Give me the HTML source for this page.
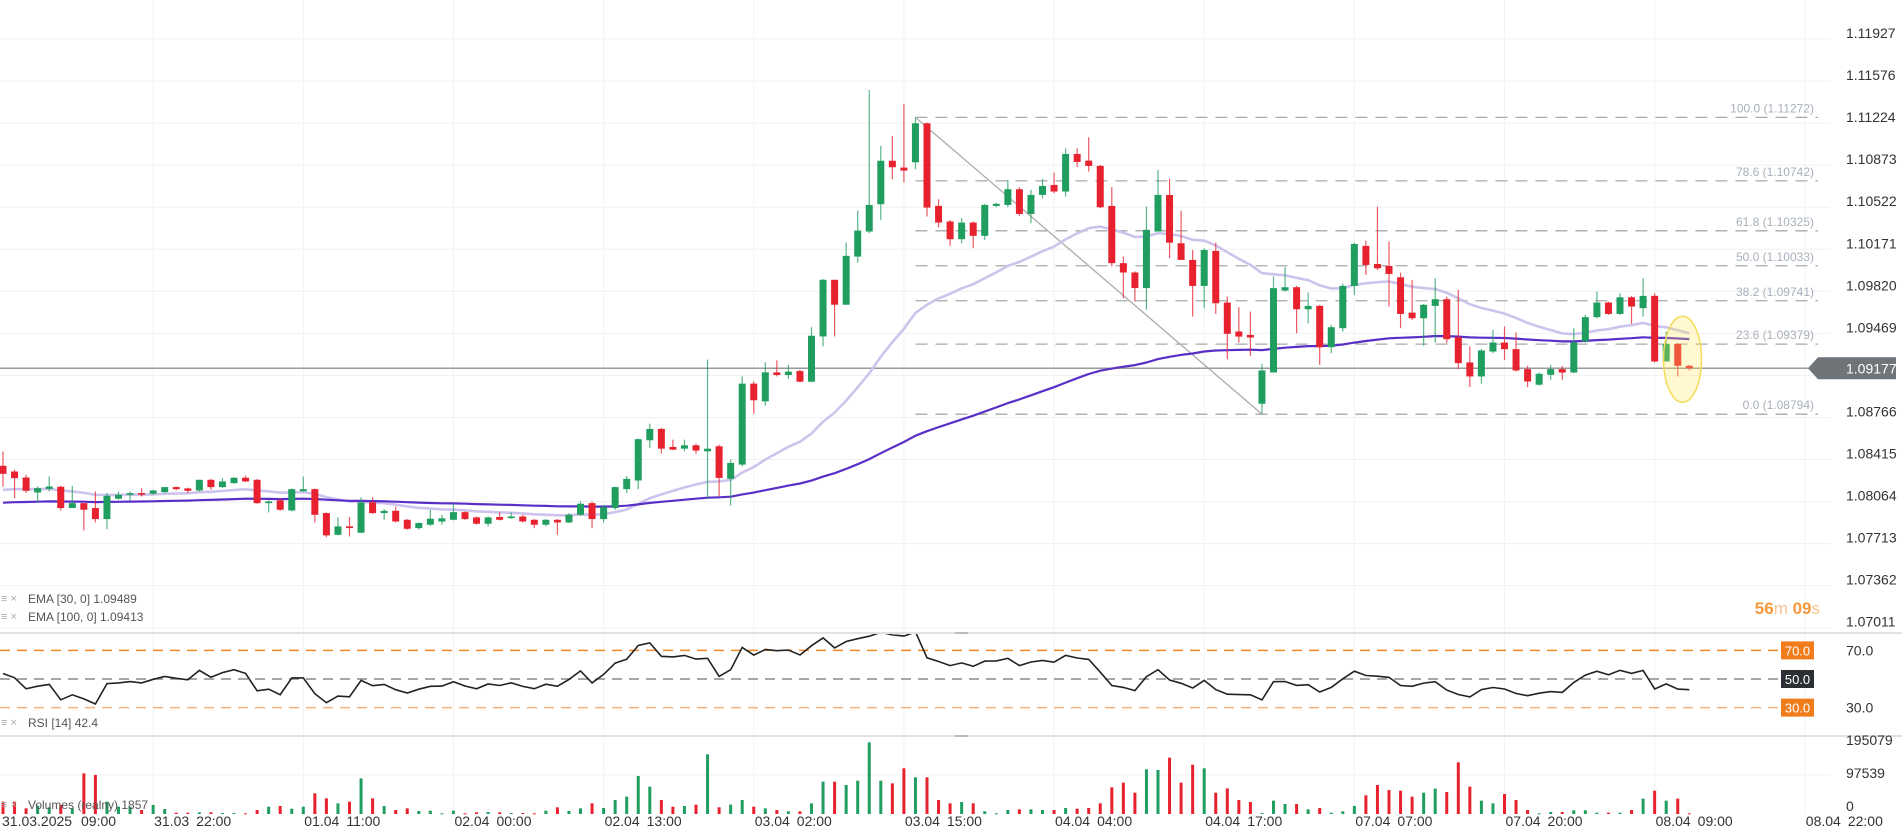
<!DOCTYPE html>
<html><head><meta charset="utf-8"><style>
html,body{margin:0;padding:0;background:#fff;}
svg{display:block;font-family:"Liberation Sans",sans-serif;}
</style></head><body>
<svg id="chart" width="1902" height="840" viewBox="0 0 1902 840" xmlns="http://www.w3.org/2000/svg">
<defs>
<clipPath id="clipPrice"><rect x="0" y="0" width="1830" height="633"/></clipPath>
<clipPath id="clipRsi"><rect x="0" y="634" width="1830" height="102"/></clipPath>
</defs>
<g id="grid"></g>
<g id="volume"></g>
<g id="fib"></g>
<g id="ema" clip-path="url(#clipPrice)"></g>
<g id="candles" clip-path="url(#clipPrice)"></g>
<g id="rsi"></g>
<g id="axes"></g>
</svg>
<script>
const opens=[1.08363,1.08315,1.08265,1.0814,1.0817,1.08188,1.0801,1.08051,1.0801,1.07918,
1.08088,1.08121,1.08135,1.0813,1.08143,1.08185,1.08174,1.08157,1.08246,1.08185,
1.08218,1.08263,1.08246,1.08051,1.08074,1.0799,1.08151,1.08168,1.07968,1.07787,
1.07857,1.07804,1.08057,1.07968,1.07987,1.07912,1.07843,1.07871,1.07898,1.07912,
1.07976,1.07932,1.07879,1.07935,1.07926,1.0794,1.07912,1.07871,1.07912,1.0789,
1.07954,1.08051,1.07918,1.0801,1.08168,1.0824,1.08576,1.08671,1.0852,1.08506,
1.08534,1.08484,1.08526,1.08254,1.08373,1.09049,1.08901,1.09143,1.09121,1.09154,
1.09065,1.09443,1.09916,1.09708,1.1011,1.10319,1.10547,1.1091,1.10853,1.10897,
1.11223,1.10533,1.10403,1.10255,1.10394,1.10283,1.10533,1.10541,1.10672,1.10466,
1.10625,1.10708,1.10653,1.10967,1.10911,1.10867,1.10533,1.10055,1.09977,1.09847,
1.10319,1.10624,1.10221,1.10082,1.09865,1.10157,1.09726,1.09484,1.09456,1.08881,
1.09142,1.09826,1.09854,1.0967,1.09698,1.09353,1.09512,1.09865,1.10199,1.10048,
1.10032,1.09937,1.09642,1.09595,1.09698,1.09754,1.09437,1.09226,1.09109,1.09317,
1.09392,1.09337,1.0917,1.0904,1.09123,1.0917,1.09142,1.09401,1.09604,1.09726,
1.09631,1.0977,1.09679,1.09782,1.09234,1.09381,1.09198];
const closes=[1.08296,1.0826,1.08154,1.08176,1.0819,1.0801,1.08051,1.07996,1.07918,1.08113,
1.08121,1.08135,1.08121,1.08157,1.08185,1.08168,1.08154,1.08246,1.08185,1.08232,
1.08263,1.08232,1.08051,1.08065,1.07996,1.08168,1.08168,1.07954,1.07782,1.07857,
1.07843,1.08057,1.07968,1.07987,1.07898,1.07837,1.07885,1.07921,1.07924,1.07976,
1.07918,1.07879,1.07932,1.07912,1.0794,1.07898,1.07871,1.07912,1.0789,1.07954,
1.08046,1.07918,1.08018,1.08185,1.08254,1.08585,1.08671,1.08506,1.08498,1.08534,
1.0849,1.08506,1.08262,1.08387,1.09049,1.0891,1.09143,1.09121,1.09149,1.09065,
1.09449,1.09916,1.09708,1.10116,1.10327,1.10541,1.1091,1.10856,1.10828,1.11223,
1.10519,1.10394,1.10255,1.10394,1.10283,1.10541,1.1055,1.10672,1.10466,1.10625,
1.107,1.10653,1.10967,1.109,1.10867,1.10522,1.10055,1.09977,1.09847,1.10333,
1.10625,1.10226,1.10082,1.09865,1.10165,1.0972,1.09465,1.09442,1.09434,1.09159,
1.09846,1.09854,1.0967,1.09698,1.09353,1.0952,1.09865,1.10215,1.1004,1.10012,
1.09965,1.09631,1.09595,1.09707,1.09754,1.0942,1.0922,1.09109,1.09326,1.09392,
1.09337,1.09159,1.09067,1.09131,1.0917,1.09142,1.09392,1.09604,1.09726,1.09631,
1.0977,1.09693,1.09782,1.09234,1.09381,1.09198,1.09177];
const highs=[1.08482,1.0833,1.08288,1.0819,1.08274,1.08196,1.08196,1.08051,1.08149,1.08135,
1.08149,1.08149,1.08176,1.08163,1.08185,1.0819,1.0818,1.08246,1.08252,1.0826,
1.08268,1.08282,1.08252,1.08074,1.08093,1.08174,1.08274,1.08174,1.07974,1.07935,
1.07935,1.08101,1.08101,1.08001,1.08024,1.07918,1.0789,1.07996,1.07954,1.08051,
1.07982,1.0794,1.0794,1.07974,1.07974,1.07954,1.07918,1.07918,1.07918,1.07968,
1.08065,1.08065,1.08037,1.0819,1.08279,1.08593,1.08715,1.08679,1.08581,1.08581,
1.08548,1.09249,1.0854,1.08415,1.0911,1.09068,1.09227,1.09243,1.09207,1.09165,
1.09521,1.09922,1.09916,1.10227,1.10494,1.11501,1.11034,1.11117,1.11384,1.11272,
1.11228,1.10589,1.10416,1.1043,1.10403,1.1055,1.10561,1.1075,1.10689,1.10667,
1.1076,1.10811,1.11014,1.11014,1.11106,1.10875,1.1069,1.10111,1.09986,1.10528,
1.10833,1.1076,1.10493,1.10165,1.10179,1.10226,1.09776,1.09687,1.09651,1.09214,
1.09943,1.10021,1.09865,1.09809,1.09707,1.0954,1.09882,1.10226,1.10243,1.10527,
1.10235,1.09976,1.09915,1.09715,1.09929,1.09776,1.09832,1.09359,1.09337,1.09498,
1.09526,1.09476,1.09198,1.09142,1.09206,1.09198,1.09512,1.09623,1.09818,1.09734,
1.09804,1.09782,1.09929,1.09804,1.09484,1.09387,1.09206];
const lows=[1.0819,1.08093,1.08135,1.08057,1.08149,1.0799,1.0801,1.07823,1.0789,1.07834,
1.0808,1.08074,1.08107,1.08121,1.08135,1.08157,1.08135,1.08149,1.08163,1.08176,
1.08213,1.08227,1.08046,1.07974,1.07987,1.07982,1.08146,1.0789,1.07768,1.07782,
1.07773,1.07801,1.07962,1.07912,1.0789,1.07829,1.07829,1.07862,1.07871,1.07907,
1.07912,1.07871,1.07857,1.07907,1.07918,1.0789,1.07843,1.07857,1.07787,1.07885,
1.07946,1.07843,1.0789,1.07996,1.08135,1.08168,1.08512,1.08465,1.08493,1.08484,
1.08462,1.08095,1.08109,1.08031,1.08359,1.08798,1.08865,1.0911,1.09088,1.0906,
1.0906,1.0936,1.09443,1.09708,1.1006,1.10305,1.10416,1.10756,1.10728,1.10839,
1.10444,1.10355,1.102,1.10222,1.1018,1.1025,1.10522,1.10522,1.1045,1.10389,
1.10597,1.10639,1.10611,1.10856,1.10819,1.10514,1.10027,1.09763,1.09735,1.09666,
1.10319,1.10096,1.10082,1.09609,1.09679,1.09631,1.09253,1.09392,1.09281,1.08794,
1.09142,1.09818,1.0947,1.09554,1.09206,1.09303,1.09484,1.0979,1.09957,1.09998,
1.09693,1.09512,1.09581,1.09365,1.09392,1.09387,1.0917,1.0902,1.09048,1.09303,
1.09248,1.0915,1.0902,1.09031,1.09081,1.09081,1.09137,1.09392,1.09595,1.09623,
1.09623,1.09548,1.09609,1.09226,1.09234,1.09109,1.09159];
const volumes=[30900,30900,14200,20900,16700,22500,14200,101700,97600,30900,
18300,18300,10000,22500,12500,3300,3300,4200,4200,2500,
2500,1700,10000,18300,20000,13300,18300,51700,39200,26700,
30900,89200,39200,20000,10000,14200,7500,8300,1700,8300,
1700,4200,5000,4200,2500,2500,1700,8300,16700,7500,
14200,26700,15000,35000,43400,95100,68400,35000,18300,20000,
23400,149300,16700,23400,35000,18300,14200,10000,6700,6700,
26700,80900,80900,72600,83400,179300,83400,76700,114300,91700,
91700,35000,26700,30000,26700,6700,1700,10000,11700,11700,
10000,10000,15000,13300,15000,26700,66700,78400,53400,111800,
110100,141000,78400,123400,114300,53400,64200,35000,30000,2500,
33400,25000,25000,11700,15000,3300,6700,20000,46700,72600,
60000,58400,43400,53400,63400,55000,129300,68400,33400,26700,
50000,35000,10000,1700,5000,5000,9200,9200,3300,3300,
3300,10000,38400,58400,33400,38400,1700];
const priceTicks=["1.11927","1.11576","1.11224","1.10873","1.10522","1.10171","1.09820","1.09469","1.09118","1.08766","1.08415","1.08064","1.07713","1.07362","1.07011"];
const fibLevels=["100.0","78.6","61.8","50.0","38.2","23.6","0.0"];
const fibPrices=[1.11272,1.10742,1.10325,1.10033,1.09741,1.09379,1.08794];
const timeLabels=["31.03 22:00","01.04 11:00","02.04 00:00","02.04 13:00","03.04 02:00","03.04 15:00","04.04 04:00","04.04 17:00","07.04 07:00","07.04 20:00","08.04 09:00","08.04 22:00"];
const volTicks=["195079","97539","0"];
const lastPrice=1.09177;
const fibStartIdx=79, fibEndIdx=109;

const NS="http://www.w3.org/2000/svg";
function mk(parent,tag,attrs,text){const e=document.createElementNS(NS,tag);for(const k in attrs)e.setAttribute(k,attrs[k]);if(text!==undefined)e.textContent=text;parent.appendChild(e);return e;}
const X0=3, DX=11.55;
const xOf=i=>X0+i*DX;
const yP=p=>368.3-(p-1.09177)/0.0000835;
const yR=v=>679-(v-50)*1.43;
const VMAX=195079;
const yV=v=>814-v/VMAX*78;
const GREEN="#1f9e60", RED="#e8212f";

const grid=document.getElementById('grid');
priceTicks.forEach(t=>{const y=yP(parseFloat(t));const l=mk(grid,'line',{x1:0,x2:1830,y1:y,y2:y,stroke:'#f0f0f0','stroke-width':1});

});
[775].forEach(y=>{const l=mk(grid,'line',{x1:0,x2:1830,y1:y,y2:y,stroke:'#f0f0f0'});

});
timeLabels.forEach((t,k)=>{const x=xOf(13+13*k);const l=mk(grid,'line',{x1:x,x2:x,y1:0,y2:815,stroke:'#f2f2f2'});

});
[633,736].forEach(y=>{const l=mk(grid,'line',{x1:0,x2:1902,y1:y,y2:y,stroke:'#e2e2e2','stroke-width':2});


const h=mk(grid,'line',{x1:955,x2:968,y1:y,y2:y,stroke:'#bbb','stroke-width':2});

});

const vg=document.getElementById('volume');
volumes.forEach((v,i)=>{const up=closes[i]>=opens[i];const y=yV(v);
const r=mk(vg,'rect',{x:xOf(i)-1.5,y:y,width:3,height:Math.max(814-y,1),fill:up?GREEN:RED});

});

const fg=document.getElementById('fib');
fibPrices.forEach((p,k)=>{const y=yP(p);
const l=mk(fg,'line',{x1:xOf(fibStartIdx),x2:1818,y1:y,y2:y,stroke:'#a9a9a9','stroke-width':1.3,'stroke-dasharray':'12 8'});


const t=mk(fg,'text',{x:1814,y:y-5,'text-anchor':'end','font-size':12,fill:'#a8b0bb'},fibLevels[k]+" ("+p.toFixed(5)+")");

});
const diag=mk(fg,'line',{x1:xOf(fibStartIdx),y1:yP(fibPrices[0]),x2:xOf(fibEndIdx),y2:yP(fibPrices[6]),stroke:'#b0b0b0','stroke-width':1.4});



const cp=mk(fg,'line',{x1:0,x2:1812,y1:yP(lastPrice),y2:yP(lastPrice),stroke:'#9a9a9a','stroke-width':1.5});



function ema(period,seed,k){let e=seed;return closes.map(c=>(e=c*k+e*(1-k)));}
const ema30=ema(30,1.0815,2.4/31), ema100=ema(100,1.0805,2/101);
const eg=document.getElementById('ema');
[[ema30,'#cdc3ec',2.6,'ema-30-line'],[ema100,'#5a2fc7',2.2,'ema-100-line']].forEach(([arr,col,w,nm])=>{
const d=arr.map((v,i)=>(i?'L':'M')+xOf(i).toFixed(1)+','+yP(v).toFixed(1)).join(' ');
const p=mk(eg,'path',{d:d,fill:'none',stroke:col,'stroke-width':w,'stroke-linejoin':'round'});

});

const cg=document.getElementById('candles');
opens.forEach((o,i)=>{const c=closes[i];const up=c>=o;const col=up?GREEN:RED;const x=xOf(i);
const w=mk(cg,'line',{x1:x,x2:x,y1:yP(highs[i]),y2:yP(lows[i]),stroke:col,'stroke-width':1.2,opacity:0.75});


const top=yP(Math.max(o,c)),bot=yP(Math.min(o,c));
const b=mk(cg,'rect',{x:x-3.5,y:top,width:7,height:Math.max(bot-top,1.5),fill:col});

});

const last=opens.length-1;
const ell=mk(cg,'ellipse',{cx:(xOf(last-1)+xOf(last))/2-1,cy:yP(lastPrice)-9,rx:19,ry:43,fill:'rgba(255,230,90,0.28)',stroke:'#f3dc5a','stroke-width':1.5});



const rg=document.getElementById('rsi');
[[70,'#f0882a','10 7'],[50,'#8a8a8a','10 7'],[30,'#f5b27a','10 7']].forEach(([v,col,da])=>{
const l=mk(rg,'line',{x1:0,x2:1785,y1:yR(v),y2:yR(v),stroke:col,'stroke-width':1.5,'stroke-dasharray':da});

});
let ag=0.00027,al=0.00018;const rsi=[];
closes.forEach((c,i)=>{const ch=i?c-closes[i-1]:c-opens[0];const g=Math.max(ch,0),lo=Math.max(-ch,0);
ag=(ag*13+g)/14;al=(al*13+lo)/14;rsi.push(100-100/(1+ag/al));});
const rp=mk(rg,'path',{d:rsi.map((v,i)=>(i?'L':'M')+xOf(i).toFixed(1)+','+yR(v).toFixed(1)).join(' '),fill:'none',stroke:'#222','stroke-width':1.6,'clip-path':'url(#clipRsi)'});


[[70,'#f07c1c','#fff'],[50,'#2b2f33','#fff'],[30,'#f07c1c','#fff']].forEach(([v,bg,fc])=>{
const r=mk(rg,'rect',{x:1781,y:yR(v)-9,width:33,height:18,fill:bg});


const t=mk(rg,'text',{x:1797.5,y:yR(v)+5,'text-anchor':'middle','font-size':13,fill:fc},v.toFixed(1));

});

const ax=document.getElementById('axes');
priceTicks.forEach(t=>{const e=mk(ax,'text',{x:1846,y:yP(parseFloat(t))-1,'font-size':14,fill:'#333'},t);

});
const py=yP(lastPrice);
const tag=mk(ax,'path',{d:`M1808,${py} L1818,${py-11} L1896,${py-11} L1896,${py+11} L1818,${py+11} Z`,fill:'#6f7479'});


const tt=mk(ax,'text',{x:1846,y:py+5,'font-size':14,fill:'#fff'},lastPrice.toFixed(5));


[["70.0",yR(70)],["30.0",yR(30)]].forEach(([s,y])=>{const e=mk(ax,'text',{x:1846,y:y+5,'font-size':14,fill:'#333'},s);

});
[[volTicks[0],745],[volTicks[1],778],[volTicks[2],811]].forEach(([s,y])=>{const e=mk(ax,'text',{x:1846,y:y,'font-size':14,fill:'#333'},s);

});
let e0=mk(ax,'text',{x:2,y:826,'font-size':14,fill:'#333'},"31.03.2025");


e0=mk(ax,'text',{x:81,y:826,'font-size':14,fill:'#333'},"09:00");


timeLabels.forEach((t,k)=>{const e=mk(ax,'text',{x:xOf(13+13*k)+1,y:826,'font-size':14,fill:'#333'},t.replace(' ','\u2002'));

});
function legend(y,txt,nm){const ic=mk(ax,'text',{x:1,y:y,'font-size':11,fill:'#aaa'},"\u2261 \u00d7");


const t=mk(ax,'text',{x:28,y:y+1,'font-size':12,fill:'#555'},txt);

}
legend(602,"EMA [30, 0] 1.09489",'ema-30-legend');
legend(620,"EMA [100, 0] 1.09413",'ema-100-legend');
legend(726,"RSI [14] 42.4",'rsi-legend');
legend(808,"Volumes (realny) 1857",'volume-legend');
const tm=mk(ax,'text',{x:1820,y:614,'text-anchor':'end','font-size':17,fill:'#f39a3c'});


tm.innerHTML='<tspan font-weight="bold">56</tspan><tspan fill="#f8c48e">m </tspan><tspan font-weight="bold">09</tspan><tspan fill="#f8c48e">s</tspan>';
</script>
</body></html>
